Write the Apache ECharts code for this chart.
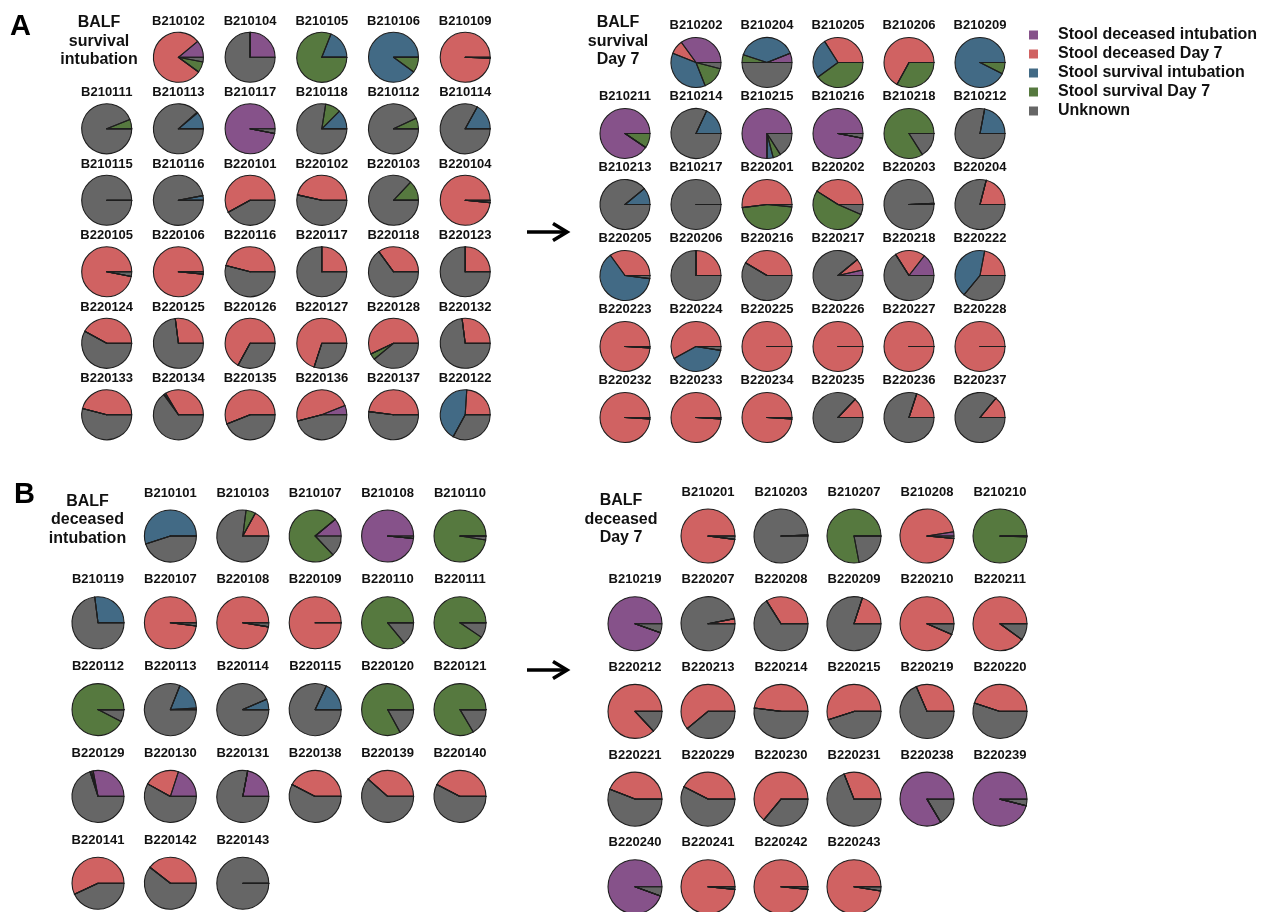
<!DOCTYPE html>
<html>
<head>
<meta charset="utf-8">
<script src="https://cdn.jsdelivr.net/npm/echarts@6/dist/echarts.min.js"></script>
<style>
html,body{margin:0;padding:0;background:#fff;}
#main{width:1266px;height:912px;}
</style>
</head>
<body>
<div id="main"></div>
<script>
// Categories (slice order, counter-clockwise from 3 o'clock)
const categories = ['Stool deceased intubation','Stool deceased Day 7','Stool survival intubation','Stool survival Day 7','Unknown'];
const catColors = ['#86528a','#d06262','#426a85','#56793f','#666666'];

// Panel A left: BALF survival intubation
const aIntNames = ['B210102','B210104','B210105','B210106','B210109',
  'B210111','B210113','B210117','B210118','B210112','B210114',
  'B210115','B210116','B220101','B220102','B220103','B220104',
  'B220105','B220106','B220116','B220117','B220118','B220123',
  'B220124','B220125','B220126','B220127','B220128','B220132',
  'B220133','B220134','B220135','B220136','B220137','B220122'];
const aIntValues = [
  [11,79,0,7,3],[25,0,0,0,75],[0,0,19,81,0],[0,0,90,10,0],[0,99.5,0,0,0.5],
  [0,0,0,6,94],[0,0,11,0.5,88.5],[97,0,0,0,3],[0,0,12.5,10,77.5],[0,0,0,7,93],[0,0,17,0,83],
  [0,0,0,0,100],[0,0,3,0,97],[0,58,0,0,42],[0,46.5,0,0,53.5],[0,0,0,13,87],[0,98.5,0,0,1.5],
  [0,97,0,0,3],[0,98.5,0,0,1.5],[0,46,0,0,54],[0,25,0,0,75],[0,35,0,0,65],[0,25,0,0,75],
  [0,42,0,0,58],[0,27,0,0,73],[0,67,0,0,33],[0,70,0,0,30],[0,57,0,4,39],[0,27,0,0,73],
  [0,46,0,0,54],[0,33.5,1,0.5,65],[0,56,0,0,44],[6,48,0,0,46],[0,48,0,0,52],[0,24,43,0,33]
];

// Panel A right: BALF survival Day 7
const aD7Names = ['B210202','B210204','B210205','B210206','B210209',
  'B210211','B210214','B210215','B210216','B210218','B210212',
  'B210213','B210217','B220201','B220202','B220203','B220204',
  'B220205','B220206','B220216','B220217','B220218','B220222',
  'B220223','B220224','B220225','B220226','B220227','B220228',
  'B220232','B220233','B220234','B220235','B220236','B220237'];
const aD7Values = [
  [35,9,37,15,4],[6,0,39,5,50],[0,34,26,40,0],[0,67,0,33,0],[0,0,92.5,7.5,0],
  [90.5,0,0,9.5,0],[0,0,18,0,82],[75,0,4,5,16],[97,0,0,0,3],[0,0,0,84,16],[0,0,22,0,78],
  [0,0,11,0,89],[0,0,0,0,100],[0,52,0,46.5,1.5],[0,41,0,52.5,6.5],[0,0.7,0,0,99.3],[0,21,0,0,79],
  [0,35,63,0,2],[0,25,0,0,75],[0,41.5,0,0,58.5],[3.5,7.5,0,0,89],[14.5,19.5,0,0,66],[0,22,42,0,36],
  [0,99,0,0,1],[0,58,39.5,0,2.5],[0,100,0,0,0],[0,100,0,0,0],[0,100,0,0,0],[0,100,0,0,0],
  [0,99,0,0,1],[0,99,0,0,1],[0,99,0,0,1],[0,13,0,0,87],[0,20,0,0,80],[0,14,0,0,86]
];

// Panel B left: BALF deceased intubation
const bIntNames = ['B210101','B210103','B210107','B210108','B210110',
  'B210119','B220107','B220108','B220109','B220110','B220111',
  'B220112','B220113','B220114','B220115','B220120','B220121',
  'B220129','B220130','B220131','B220138','B220139','B220140',
  'B220141','B220142','B220143'];
const bIntValues = [
  [0,0,55,0,45],[0,17,0,6,77],[11,0,0,76,13],[98.5,0,0,0,1.5],[0,0,0,97.5,2.5],
  [0,0,27,0,73],[0,98,0,0,2],[0,97.5,0,0,2.5],[0,100,0,0,0],[0,0,0,86,14],[0,0,0,90.5,9.5],
  [0,0,0,92.5,7.5],[0,1,18,0,81],[0,0,6.5,0,93.5],[0,0,18,0,82],[0,0,0,83,17],[0,0,0,83.5,16.5],
  [28,1,1,0,70],[20,22,0,0,58],[22,0,0,0,78],[0,42.5,0,0,57.5],[0,38.5,0,0,61.5],[0,42.5,0,0,57.5],
  [0,57,0,0,43],[0,39.5,0,0,60.5],[0,0,0,0,100]
];

// Panel B right: BALF deceased Day 7
const bD7Names = ['B210201','B210203','B210207','B210208','B210210',
  'B210219','B220207','B220208','B220209','B220210','B220211',
  'B220212','B220213','B220214','B220215','B220219','B220220',
  'B220221','B220229','B220230','B220231','B220238','B220239',
  'B220240','B220241','B220242','B220243'];
const bD7Values = [
  [0,98,0,0,2],[0,0.6,0,0,99.4],[0,0,0,78,22],[2.5,96,0,0,1.5],[0,0,0,99.5,0.5],
  [94.5,0,0,0,5.5],[0,3,0,0,97],[0,34,0,0,66],[0,20,0,0,80],[0,93.5,0,0,6.5],[0,90,0,0,10],
  [0,87,0,0,13],[0,61,0,0,39],[0,48,0,0,52],[0,55,0,0,45],[0,31.5,0,0,68.5],[0,45,0,0,55],
  [0,44,0,0,56],[0,42.5,0,0,57.5],[0,64,0,0,36],[0,31,0,0,69],[83.5,0,0,0,16.5],[96,0,0,0,4],
  [94.5,0,0,0,5.5],[0,98.5,0,0,1.5],[0,98.5,0,0,1.5],[0,97.5,0,0,2.5]
];

const panelTitles = ['BALF\nsurvival\nintubation','BALF\nsurvival\nDay 7','BALF\ndeceased\nintubation','BALF\ndeceased\nDay 7'];

const FONT = '"Liberation Sans", Arial, Helvetica, sans-serif';
const series = [];
const overlays = [];
const graphics = [];

function pieBase(name, cx, cy, r) {
  return {
    type: 'pie', name: name, silent: true, animation: false,
    center: [cx, cy], radius: r,
    startAngle: 0, clockwise: false, minAngle: 0,
    avoidLabelOverlap: false, legendHoverLink: false,
    label: { show: false }, labelLine: { show: false },
    emphasis: { disabled: true, scale: false }
  };
}

function addPanel(names, values, L) {
  names.forEach(function (name, k) {
    const idx = k + 1;
    const row = Math.floor(idx / 6), col = idx % 6;
    const cx = L.x0 + col * L.dx, cy = L.y0 + row * L.dy;
    const s = pieBase(name, cx, cy, L.r);
    s.itemStyle = { borderWidth: 0, borderRadius: 0 };
    s.data = categories.map(function (c, i) {
      return { name: c, value: values[k][i], itemStyle: { color: catColors[i] } };
    });
    series.push(s);
    // edge overlay: same wedges, outline only (edges drawn on top, like wedge edges in the original)
    const o = pieBase(name + ' edges', cx, cy, L.r);
    o.z = 3;
    o.itemStyle = { color: 'rgba(0,0,0,0)', borderColor: '#1e1e1e', borderWidth: 1.1, borderRadius: 0 };
    o.data = categories.map(function (c, i) {
      return { name: c + ' ', value: values[k][i] };
    });
    overlays.push(o);
    graphics.push({
      type: 'text', x: cx, y: cy - L.labelDy, silent: true,
      style: { text: name, font: 'bold 13px ' + FONT, fill: '#111',
        textAlign: 'center', textVerticalAlign: 'middle', align: 'center', verticalAlign: 'middle' }
    });
  });
  graphics.push({
    type: 'text', x: L.tx, y: L.ty, silent: true,
    style: { text: L.title, font: 'bold 16px ' + FONT, fill: '#111', lineHeight: L.tlh,
      textAlign: 'center', textVerticalAlign: 'middle', align: 'center', verticalAlign: 'middle' }
  });
}

addPanel(aIntNames, aIntValues, {x0:106.7, dx:71.7, y0:57.3, dy:71.5, r:25, labelDy:36, title:panelTitles[0], tx:99, ty:41.5, tlh:18.5});
addPanel(aD7Names, aD7Values, {x0:625, dx:71, y0:62.5, dy:71, r:25, labelDy:37, title:panelTitles[1], tx:618, ty:41.5, tlh:18.5});
addPanel(bIntNames, bIntValues, {x0:98, dx:72.4, y0:536, dy:86.8, r:26, labelDy:43, title:panelTitles[2], tx:87.5, ty:520, tlh:18.3});
addPanel(bD7Names, bD7Values, {x0:635, dx:73, y0:536, dy:87.7, r:27, labelDy:44, title:panelTitles[3], tx:621, ty:519.3, tlh:18.5});

// panel letters
graphics.push({ type:'text', x:10, y:27, silent:true,
  style:{ text:'A', font:'bold 29px ' + FONT, fill:'#000', textAlign:'left', textVerticalAlign:'middle', align:'left', verticalAlign:'middle' } });
graphics.push({ type:'text', x:14, y:495, silent:true,
  style:{ text:'B', font:'bold 29px ' + FONT, fill:'#000', textAlign:'left', textVerticalAlign:'middle', align:'left', verticalAlign:'middle' } });

// arrows
function arrow(y) {
  graphics.push({ type:'polyline', silent:true, shape:{ points:[[527,y],[566,y]] },
    style:{ stroke:'#000', lineWidth:3.6, fill:null } });
  graphics.push({ type:'polyline', silent:true, shape:{ points:[[553,y-8.5],[567,y],[553,y+8.5]] },
    style:{ stroke:'#000', lineWidth:3.6, fill:null, lineJoin:'miter' } });
}
arrow(232);
arrow(670);

const chart = echarts.init(document.getElementById('main'), null, { renderer: 'canvas' });
chart.setOption({
  backgroundColor: '#ffffff',
  animation: false,
  legend: {
    data: categories,
    orient: 'vertical',
    left: 1029, top: 25.5,
    padding: 0,
    itemGap: 0,
    icon: 'rect',
    itemWidth: 9, itemHeight: 9,
    selectedMode: false,
    itemStyle: { borderWidth: 0 },
    textStyle: { fontFamily: FONT, fontWeight: 'bold', fontSize: 16, color: '#111', lineHeight: 19, padding: [0, 0, 0, 15] }
  },
  series: series.concat(overlays),
  graphic: graphics
});
</script>
</body>
</html>
